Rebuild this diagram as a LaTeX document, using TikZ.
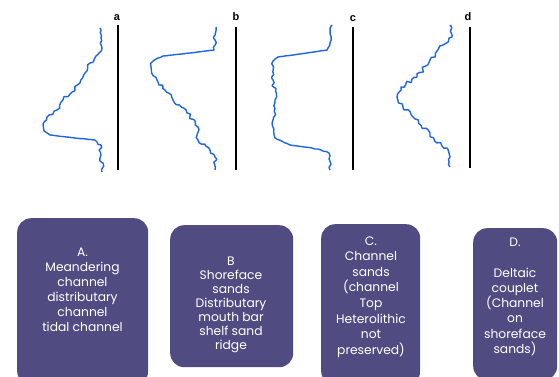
\documentclass[tikz,border=0pt]{standalone}
\usepackage{fontspec}
\setmainfont{Poppins}
\newfontfamily\labfont{Liberation Sans}
\definecolor{boxfill}{RGB}{80,76,130}
\definecolor{logblue}{RGB}{30,100,230}
\def\mynone{none}
% build a jittered point list from base points x/y/amplitude
\newcommand\buildwiggle[1]{%
  \gdef\wl{}%
  \foreach \x/\y/\a [remember=\x as \px (initially none), remember=\y as \py (initially none)] in {#1} {%
    \ifx\px\mynone
      \xdef\wl{(\x,\y)}%
    \else
      \pgfmathsetmacro{\len}{veclen(\x-\px,\y-\py)}%
      \pgfmathtruncatemacro{\n}{max(1,round(\len/2.8))}%
      \pgfmathsetmacro{\nx}{-(\y-\py)/\len}%
      \pgfmathsetmacro{\ny}{(\x-\px)/\len}%
      \foreach \i in {1,...,\n} {%
        \pgfmathsetmacro{\r}{\a*(2*rnd-1)}%
        \ifnum\i=\n \def\r{0}\fi
        \pgfmathsetmacro{\X}{\px+(\x-\px)*\i/\n+\r*\nx}%
        \pgfmathsetmacro{\Y}{\py+(\y-\py)*\i/\n+\r*\ny}%
        \xdef\wl{\wl (\X,\Y)}%
      }%
    \fi
  }%
}
\begin{document}
\begin{tikzpicture}[x=1pt,y=-1pt,
  logcurve/.style={draw=logblue, line width=1.4pt, line join=round},
  axisline/.style={draw=black, line width=1.6pt},
  loglabel/.style={font=\labfont\bfseries\fontsize{11}{12}\selectfont, inner sep=0pt},
  envbox/.style={fill=boxfill, rounded corners=14pt, draw=none},
  envtext/.style={text=white, align=center, inner sep=0pt,
     font=\fontsize{12.3}{15}\selectfont}]
\useasboundingbox (0,0) rectangle (559,377);
\clip (0,0) rectangle (559,377);
\pgfmathsetseed{4242}
% log axes
\coordinate (a1) at (118,25); \coordinate (a2) at (118,170);
\coordinate (b1) at (236,27); \coordinate (b2) at (236,170);
\coordinate (c1) at (353,27); \coordinate (c2) at (353,170);
\coordinate (d1) at (470,27); \coordinate (d2) at (470,168);
\draw[axisline] (a1) -- (a2);
\draw[axisline] (b1) -- (b2);
\draw[axisline] (c1) -- (c2);
\draw[axisline] (d1) -- (d2);
\node[loglabel, anchor=base] (la) at ([xshift=-1pt,yshift=4pt]a1) {a};
\node[loglabel, anchor=base] (lb) at ([yshift=6pt]b1) {b};
\node[loglabel, anchor=base] (lc) at ([yshift=5pt]c1) {c};
\node[loglabel, anchor=base] (ld) at ([xshift=-2pt,yshift=6pt]d1) {d};
% log curves
\buildwiggle{100/28/0, 101/38/2.0, 102/48/2.0, 96/56/2.0, 90/63/2.0, 85/73/2.0, 80/83/2.0, 72/92/2.0, 63/100/2.0, 57/110/1.8, 47/117/1.4, 43/124/1.0, 44/131/0.6, 50/135/0.2, 75/138/0.1, 95/140/0.2, 101/145/1.8, 101/155/2.0, 102/172/2.0}
\edef\tmp{\noexpand\draw[logcurve] plot[smooth, tension=0.55] coordinates {\wl};}\tmp
\buildwiggle{216/27/0, 215/40/1.8, 214/50/1.6, 190/53/0.1, 163/56/0.1, 153/61/0.6, 151/67/1.8, 157/80/2.0, 165/90/2.0, 173/100/2.0, 187/113/2.0, 198/127/2.0, 198/140/2.0, 210/150/2.0, 215/157/2.0, 215/170/1.8}
\edef\tmp{\noexpand\draw[logcurve] plot[smooth, tension=0.55] coordinates {\wl};}\tmp
\buildwiggle{332/25/0, 330/43/1.8, 327/50/1.2, 300/54/0.1, 278/57/0.1, 273/61/0.8, 273/80/2.2, 275/100/2.2, 273/120/2.2, 275/138/1.8, 290/145/0.2, 312/148/0.1, 329/153/0.8, 330/170/1.8}
\edef\tmp{\noexpand\draw[logcurve] plot[smooth, tension=0.55] coordinates {\wl};}\tmp
\buildwiggle{450/25/0, 452/37/2.0, 443/45/2.0, 430/60/2.0, 417/77/2.0, 401/87/2.0, 397/97/2.0, 403/107/2.0, 413/117/2.0, 430/133/2.2, 437/143/2.2, 447/148/2.0, 450/157/1.8, 450/167/1.8}
\edef\tmp{\noexpand\draw[logcurve] plot[smooth, tension=0.55] coordinates {\wl};}\tmp
% boxes
\node[envbox, minimum width=131pt, minimum height=167pt, anchor=north west] (bA) at (17,218) {};
\node[envbox, minimum width=123pt, minimum height=142pt, anchor=north west] (bB) at (170,225) {};
\node[envbox, minimum width=99pt, minimum height=161pt, anchor=north west] (bC) at (321,224) {};
\node[envbox, minimum width=84pt, minimum height=152pt, anchor=north west] (bD) at (473,228) {};
\node[envtext] (tA) at (82.5,290) {A.\\Meandering\\channel\\distributary\\channel\\tidal channel};
\node[envtext, font=\fontsize{12.3}{14}\selectfont] (tB) at (231,305) {B\\Shoreface\\sands\\Distributary\\mouth bar\\shelf sand\\ridge};
\node[envtext, font=\fontsize{12.3}{15.6}\selectfont] (tC) at (371,297) {C.\\Channel\\sands\\(channel\\Top\\Heterolithic\\not\\preserved)};
\node[envtext, font=\fontsize{12.3}{15.2}\selectfont] (tD) at (515,297) {D.\\[15.2pt]Deltaic\\couplet\\(Channel\\on\\shoreface\\sands)};
\end{tikzpicture}
\end{document}
